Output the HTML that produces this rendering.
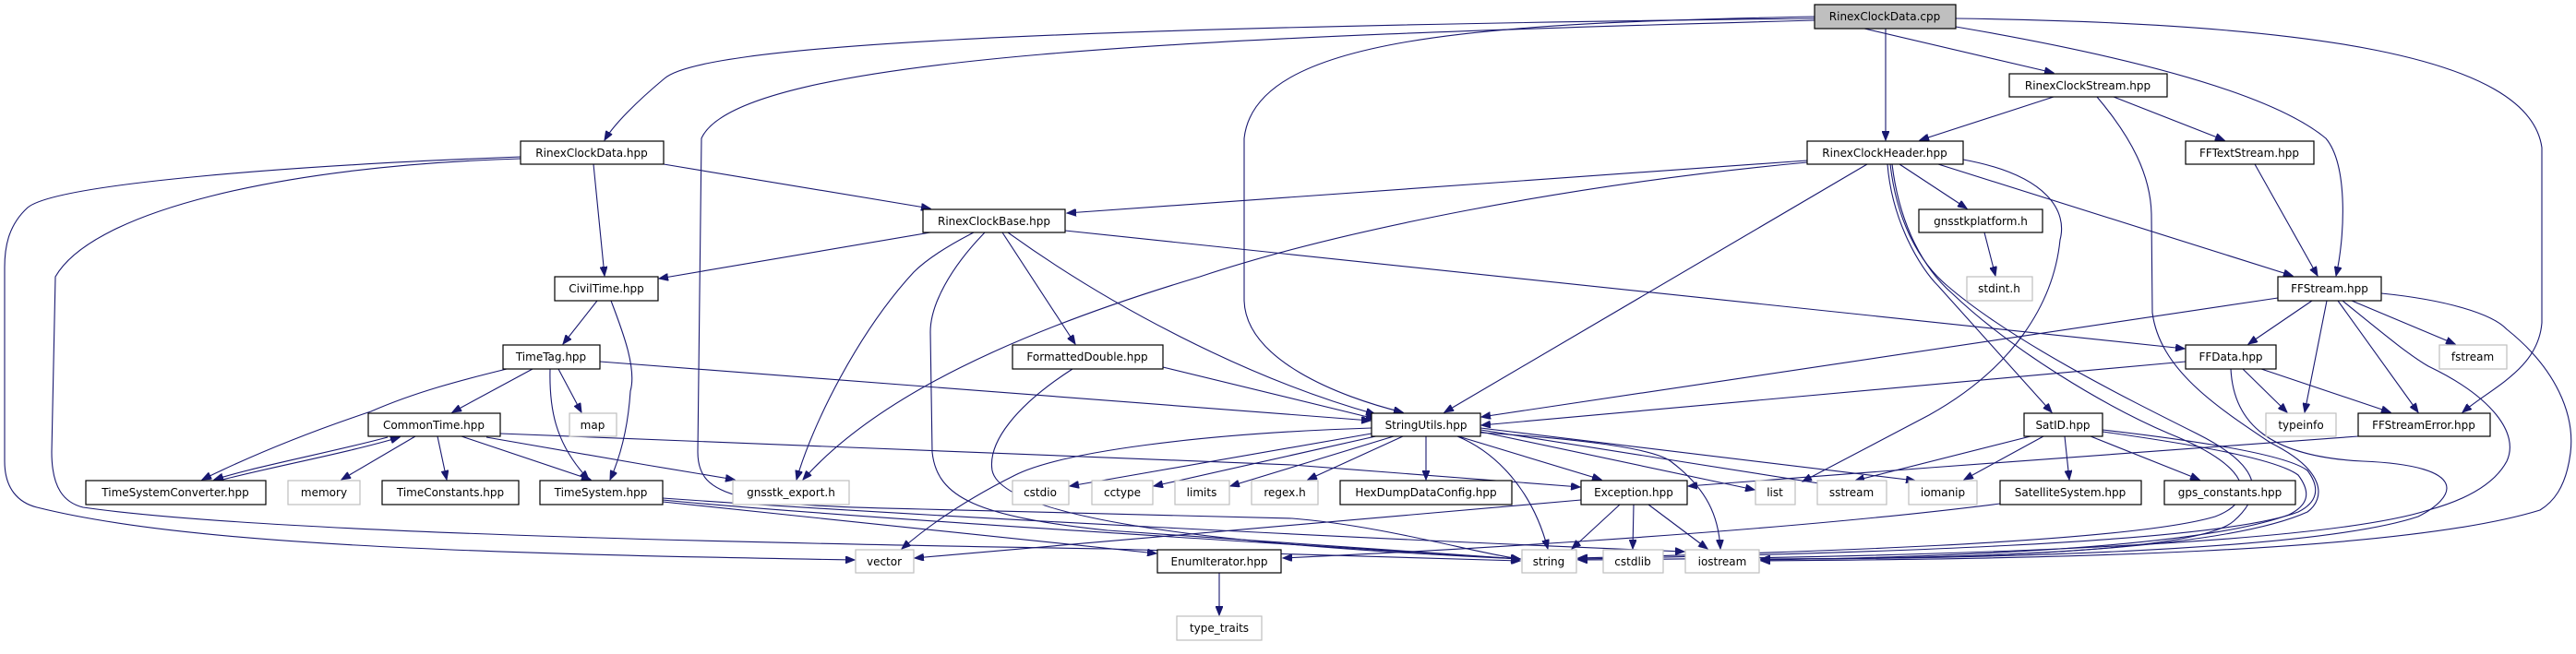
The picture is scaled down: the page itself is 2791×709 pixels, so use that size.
<!DOCTYPE html>
<html><head><meta charset="utf-8"><style>
html,body{margin:0;padding:0;background:#fff;}
svg{display:block;}
text{font-family:"DejaVu Sans","Liberation Sans",sans-serif;font-size:12px;fill:#000;text-anchor:middle;}
.e{fill:none;stroke:#191970;stroke-width:1.1;marker-end:url(#a);}
.n{fill:#fff;stroke:#000;stroke-width:1.2;}
.g{fill:#fff;stroke:#bfbfbf;stroke-width:1.2;}
</style></head><body>
<svg width="2791" height="709" viewBox="0 0 2791 709" xmlns="http://www.w3.org/2000/svg">
<defs><marker id="a" markerWidth="11" markerHeight="8" refX="10" refY="4" orient="auto" markerUnits="userSpaceOnUse"><path d="M0,0 L10,4 L0,8 z" fill="#191970" stroke="#191970"/></marker></defs>
<g>
<path class="e" d="M1966,20 C1100,30 760,50 720,85 C690,110 665,135 655,152"/>
<path class="e" d="M1966,22 C1300,40 800,60 760,150 L756,490 C756,540 800,548 1000,552 L1400,562 C1500,570 1600,600 1647,606"/>
<path class="e" d="M1966,18 C1600,25 1360,40 1348,150 L1348,326 C1350,390 1450,430 1520,447"/>
<path class="e" d="M2043,31 L2043,152"/>
<path class="e" d="M2020,31 L2225,79"/>
<path class="e" d="M2119,29 C2300,60 2460,100 2520,150 C2545,180 2540,260 2531,299"/>
<path class="e" d="M2119,20 C2500,25 2740,60 2754,160 L2754,350 C2750,400 2700,420 2668,447"/>
<path class="e" d="M2225,105 L2080,152"/>
<path class="e" d="M2290,105 L2410,152"/>
<path class="e" d="M2272,105 C2310,150 2330,190 2331,232 L2332,339 C2340,400 2400,440 2460,480 C2520,510 2520,540 2500,555 C2400,600 2100,606 1908,606"/>
<path class="e" d="M1958,174 L1156,231"/>
<path class="e" d="M1958,176 C1700,200 1450,250 1300,300 C1100,360 950,430 870,520"/>
<path class="e" d="M2023,178 L1565,447"/>
<path class="e" d="M2058,178 L2131,226"/>
<path class="e" d="M2100,178 L2484,299"/>
<path class="e" d="M2045,178 C2050,240 2080,290 2100,310 L2223,447"/>
<path class="e" d="M2127,173 C2220,190 2240,230 2232,260 C2225,330 2180,400 2090,450 L1953,522"/>
<path class="e" d="M2048,178 C2055,240 2080,285 2110,310 C2180,370 2300,430 2380,470 C2440,500 2460,530 2420,565 C2380,600 2100,606 1908,606"/>
<path class="e" d="M2050,178 C2058,245 2085,292 2115,318 C2180,380 2280,440 2350,470 C2450,510 2440,545 2400,560 C2300,590 1900,600 1710,605"/>
<path class="e" d="M719,178 L1008,226"/>
<path class="e" d="M643,178 L655,299"/>
<path class="e" d="M564,170 C300,180 60,200 30,225 C8,245 5,270 5,290 L5,500 C5,530 20,545 40,550 C200,590 500,600 926,607"/>
<path class="e" d="M564,172 C300,180 100,230 60,300 L56,490 C56,530 70,545 90,550 C300,580 900,590 1200,595 L1647,608"/>
<path class="e" d="M1008,252 L714,302"/>
<path class="e" d="M1055,252 C1020,270 1000,285 990,295 C930,360 880,460 863,520"/>
<path class="e" d="M1067,252 C1030,290 1008,330 1008,360 L1010,490 C1015,540 1060,560 1200,575 L1647,606"/>
<path class="e" d="M1086,252 L1165,373"/>
<path class="e" d="M1092,252 C1200,330 1350,410 1490,449"/>
<path class="e" d="M1154,250 L2367,378"/>
<path class="e" d="M647,326 L610,373"/>
<path class="e" d="M662,326 C675,360 690,400 683,424 C680,470 670,500 661,520"/>
<path class="e" d="M577,400 L490,447"/>
<path class="e" d="M605,400 L630,447"/>
<path class="e" d="M596,400 C595,440 600,480 638,520"/>
<path class="e" d="M549,400 C500,412 450,425 402,446 C330,470 270,495 219,520"/>
<path class="e" d="M650,392 L1485,456"/>
<path class="e" d="M420,474 C360,490 280,505 232,520"/>
<path class="e" d="M241,520 C300,505 380,490 433,474"/>
<path class="e" d="M450,473 L370,520"/>
<path class="e" d="M474,473 L484,520"/>
<path class="e" d="M500,473 L640,520"/>
<path class="e" d="M542,470 L1400,504 L1712,528"/>
<path class="e" d="M527,474 L700,504 L796,520"/>
<path class="e" d="M718,542 C900,560 1400,590 1647,606"/>
<path class="e" d="M718,544 L1253,600"/>
<path class="e" d="M718,540 C1000,560 1500,585 1825,598"/>
<path class="e" d="M1260,398 L1490,454"/>
<path class="e" d="M1162,400 C1100,440 1070,480 1075,510 C1085,560 1300,590 1647,606"/>
<path class="e" d="M1486,464 C1300,470 1150,490 1100,515 C1040,545 1000,575 977,595"/>
<path class="e" d="M1486,470 L1159,527"/>
<path class="e" d="M1495,472 L1250,527"/>
<path class="e" d="M1510,473 L1333,527"/>
<path class="e" d="M1520,473 L1417,520"/>
<path class="e" d="M1545,473 L1545,520"/>
<path class="e" d="M1580,473 L1735,520"/>
<path class="e" d="M1579,473 C1620,490 1660,530 1677,595"/>
<path class="e" d="M1604,469 C1700,475 1790,485 1810,500 C1850,530 1862,560 1864,595"/>
<path class="e" d="M1604,468 L1901,531"/>
<path class="e" d="M1604,466 L1990,527"/>
<path class="e" d="M1604,464 L2075,521"/>
<path class="e" d="M1755,547 L1703,595"/>
<path class="e" d="M1770,547 L1769,595"/>
<path class="e" d="M1786,547 L1850,595"/>
<path class="e" d="M1713,542 L991,605"/>
<path class="e" d="M1321,621 L1321,667"/>
<path class="e" d="M2555,473 L2091,507 L1829,527"/>
<path class="e" d="M2200,473 L2010,521"/>
<path class="e" d="M2214,473 L2128,520"/>
<path class="e" d="M2237,473 L2242,520"/>
<path class="e" d="M2265,473 L2383,520"/>
<path class="e" d="M2278,466 C2400,480 2480,495 2500,510 C2515,530 2510,545 2490,555 C2400,590 2000,600 1710,606"/>
<path class="e" d="M2278,468 C2400,485 2470,500 2490,515 C2505,535 2500,548 2480,558 C2380,595 2100,604 1908,607"/>
<path class="e" d="M2167,546 C1900,580 1500,600 1390,605"/>
<path class="e" d="M2368,392 L1605,461"/>
<path class="e" d="M2430,400 L2478,447"/>
<path class="e" d="M2450,400 L2590,447"/>
<path class="e" d="M2417,400 C2420,460 2460,495 2560,500 C2680,505 2660,540 2620,560 C2500,600 2100,606 1908,606"/>
<path class="e" d="M2468,323 L1605,452"/>
<path class="e" d="M2505,326 L2436,373"/>
<path class="e" d="M2521,326 L2497,447"/>
<path class="e" d="M2548,326 L2660,373"/>
<path class="e" d="M2533,326 L2620,447"/>
<path class="e" d="M2538,326 C2580,360 2610,385 2631,397 C2700,430 2730,470 2716,500 C2700,530 2660,545 2631,553 C2500,595 2000,605 1710,607"/>
<path class="e" d="M2580,318 C2650,325 2700,340 2716,357 C2770,400 2790,450 2785,491 C2780,530 2765,545 2752,553 C2600,600 2200,606 1908,608"/>
<path class="e" d="M2443,178 L2511,299"/>
<path class="e" d="M2150,252 L2162,299"/>
</g>
<g>
<rect x="1966" y="5" width="153" height="26" fill="#bfbfbf" stroke="#000" stroke-width="1.2"/><text x="2042" y="22">RinexClockData.cpp</text>
<rect class="n" x="564" y="153" width="155" height="25"/><text x="641" y="170">RinexClockData.hpp</text>
<rect class="n" x="601" y="300" width="112" height="26"/><text x="657" y="317">CivilTime.hpp</text>
<rect class="n" x="545" y="374" width="105" height="26"/><text x="597" y="391">TimeTag.hpp</text>
<rect class="n" x="399" y="448" width="143" height="25"/><text x="470" y="465">CommonTime.hpp</text>
<rect class="g" x="617" y="448" width="51" height="25"/><text x="642" y="465">map</text>
<rect class="n" x="93" y="521" width="195" height="26"/><text x="190" y="538">TimeSystemConverter.hpp</text>
<rect class="g" x="312" y="521" width="78" height="26"/><text x="351" y="538">memory</text>
<rect class="n" x="414" y="521" width="148" height="26"/><text x="488" y="538">TimeConstants.hpp</text>
<rect class="n" x="585" y="521" width="133" height="26"/><text x="651" y="538">TimeSystem.hpp</text>
<rect class="n" x="1000" y="227" width="154" height="25"/><text x="1077" y="244">RinexClockBase.hpp</text>
<rect class="n" x="1097" y="374" width="163" height="26"/><text x="1178" y="391">FormattedDouble.hpp</text>
<rect class="g" x="794" y="521" width="126" height="26"/><text x="857" y="538">gnsstk_export.h</text>
<rect class="g" x="1097" y="521" width="61" height="26"/><text x="1127" y="538">cstdio</text>
<rect class="g" x="1183" y="521" width="66" height="26"/><text x="1216" y="538">cctype</text>
<rect class="g" x="1273" y="521" width="59" height="26"/><text x="1302" y="538">limits</text>
<rect class="g" x="1356" y="521" width="72" height="26"/><text x="1392" y="538">regex.h</text>
<rect class="g" x="927" y="596" width="63" height="25"/><text x="958" y="613">vector</text>
<rect class="n" x="1254" y="596" width="134" height="25"/><text x="1321" y="613">EnumIterator.hpp</text>
<rect class="g" x="1275" y="668" width="92" height="26"/><text x="1321" y="685">type_traits</text>
<rect class="n" x="1958" y="153" width="169" height="25"/><text x="2042" y="170">RinexClockHeader.hpp</text>
<rect class="n" x="1486" y="448" width="118" height="25"/><text x="1545" y="465">StringUtils.hpp</text>
<rect class="n" x="1452" y="521" width="186" height="26"/><text x="1545" y="538">HexDumpDataConfig.hpp</text>
<rect class="n" x="1713" y="521" width="115" height="26"/><text x="1770" y="538">Exception.hpp</text>
<rect class="g" x="1902" y="521" width="43" height="26"/><text x="1923" y="538">list</text>
<rect class="g" x="1969" y="521" width="75" height="26"/><text x="2006" y="538">sstream</text>
<rect class="g" x="2068" y="521" width="74" height="26"/><text x="2105" y="538">iomanip</text>
<rect class="g" x="1649" y="596" width="59" height="25"/><text x="1678" y="613">string</text>
<rect class="g" x="1737" y="596" width="65" height="25"/><text x="1769" y="613">cstdlib</text>
<rect class="g" x="1826" y="596" width="80" height="25"/><text x="1866" y="613">iostream</text>
<rect class="n" x="2079" y="227" width="134" height="25"/><text x="2146" y="244">gnsstkplatform.h</text>
<rect class="n" x="2177" y="80" width="171" height="25"/><text x="2262" y="97">RinexClockStream.hpp</text>
<rect class="n" x="2368" y="153" width="139" height="25"/><text x="2437" y="170">FFTextStream.hpp</text>
<rect class="g" x="2131" y="300" width="71" height="26"/><text x="2166" y="317">stdint.h</text>
<rect class="n" x="2468" y="300" width="112" height="26"/><text x="2524" y="317">FFStream.hpp</text>
<rect class="n" x="2368" y="374" width="98" height="26"/><text x="2417" y="391">FFData.hpp</text>
<rect class="g" x="2643" y="374" width="73" height="26"/><text x="2679" y="391">fstream</text>
<rect class="n" x="2193" y="448" width="85" height="25"/><text x="2235" y="465">SatID.hpp</text>
<rect class="g" x="2455" y="448" width="76" height="25"/><text x="2493" y="465">typeinfo</text>
<rect class="n" x="2555" y="448" width="143" height="25"/><text x="2626" y="465">FFStreamError.hpp</text>
<rect class="n" x="2167" y="521" width="153" height="26"/><text x="2243" y="538">SatelliteSystem.hpp</text>
<rect class="n" x="2345" y="521" width="142" height="26"/><text x="2416" y="538">gps_constants.hpp</text>
</g>
</svg>
</body></html>
